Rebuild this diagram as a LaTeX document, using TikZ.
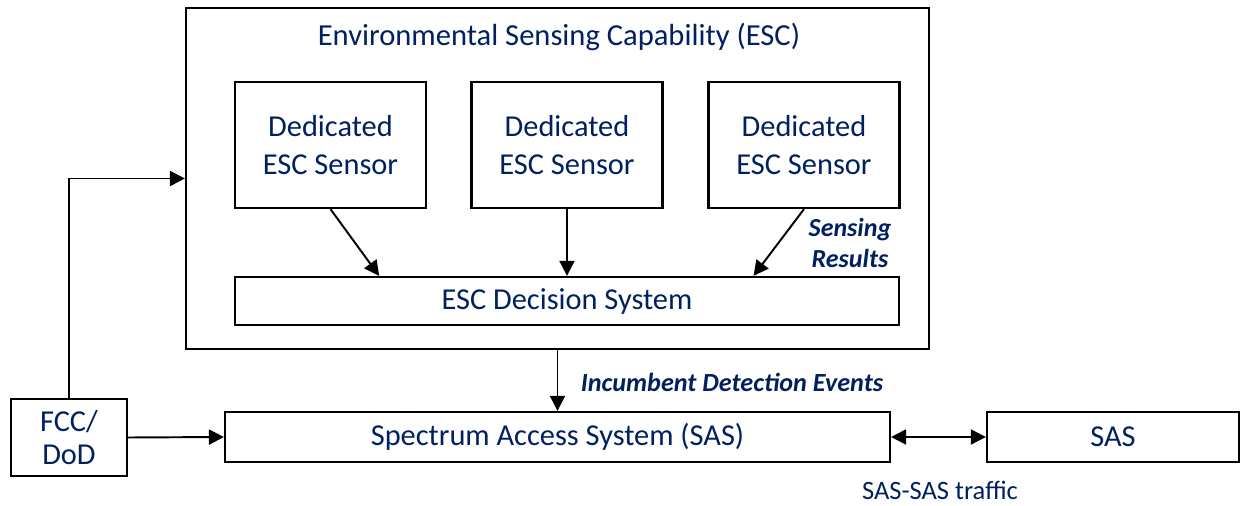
\documentclass[tikz,border=0pt]{standalone}
\usepackage{fontspec}
\setmainfont{Carlito}
\usetikzlibrary{arrows.meta,calc}
\definecolor{navy}{RGB}{0,32,96}
\begin{document}
\begin{tikzpicture}[x=0.02cm,y=-0.02cm,
  box/.style={draw,line width=1.3pt,text=navy,align=center,inner sep=0pt,
    font=\fontsize{17.3}{21.5}\selectfont},
  lbl/.style={text=navy,align=center,inner sep=0pt},
  arr/.style={line width=1.1pt,-{Triangle[length=0.3cm,width=0.3cm]}}]

  \useasboundingbox (0,0) rectangle (1241,506);

  % ESC and its parts
  \node[box,minimum width=14.86cm,minimum height=6.82cm] (esc) at (557.5,178.5) {};
  \node[lbl,font=\fontsize{17.4}{21}\selectfont] (esctitle) at (559,37) {Environmental Sensing Capability (ESC)};
  \node[box,minimum width=3.82cm,minimum height=2.52cm] (s1) at (330.5,145) {Dedicated\\ESC Sensor};
  \node[box,minimum width=3.82cm,minimum height=2.52cm] (s2) at (567,145) {Dedicated\\ESC Sensor};
  \node[box,minimum width=3.82cm,minimum height=2.52cm] (s3) at (804,145) {Dedicated\\ESC Sensor};
  \node[box,minimum width=13.28cm,minimum height=0.96cm] (dec) at (567,301) {ESC Decision System};

  % outside boxes
  \node[box,minimum width=13.3cm,minimum height=1.0cm] (sas) at (557.5,437) {Spectrum Access System (SAS)};
  \node[box,minimum width=2.32cm,minimum height=1.54cm,font=\fontsize{17.3}{19}\selectfont] (fcc) at (69,437.5) {FCC/\\DoD};
  \node[box,minimum width=5.04cm,minimum height=1.0cm] (sas2) at (1113,437) {SAS};

  % labels
  \node[lbl,font=\fontsize{14.8}{17.6}\selectfont\bfseries\itshape] (senslbl) at (850,243) {Sensing\\Results};
  \node[lbl,font=\fontsize{14.9}{18}\selectfont\bfseries\itshape] (inclbl) at (732,382) {Incumbent Detection Events};
  \node[lbl,font=\fontsize{15.1}{18}\selectfont] (traffic) at (940,490) {SAS-SAS traffic};

  \draw[arr] (s1.south) -- ($(dec.north west)!0.218!(dec.north east)$);
  \draw[arr] (s2.south) -- (dec.north);
  \draw[arr] (s3.south) -- ($(dec.north west)!0.78!(dec.north east)$);
  \draw[arr] (esc.south) -- (sas.north);
  \draw[arr] (fcc.east) -- (sas.west);
  \draw[arr] (fcc.north) |- (esc.west);
  \draw[arr,{Triangle[length=0.3cm,width=0.3cm]}-{Triangle[length=0.3cm,width=0.3cm]}] (sas.east) -- (sas2.west);
\end{tikzpicture}
\end{document}
